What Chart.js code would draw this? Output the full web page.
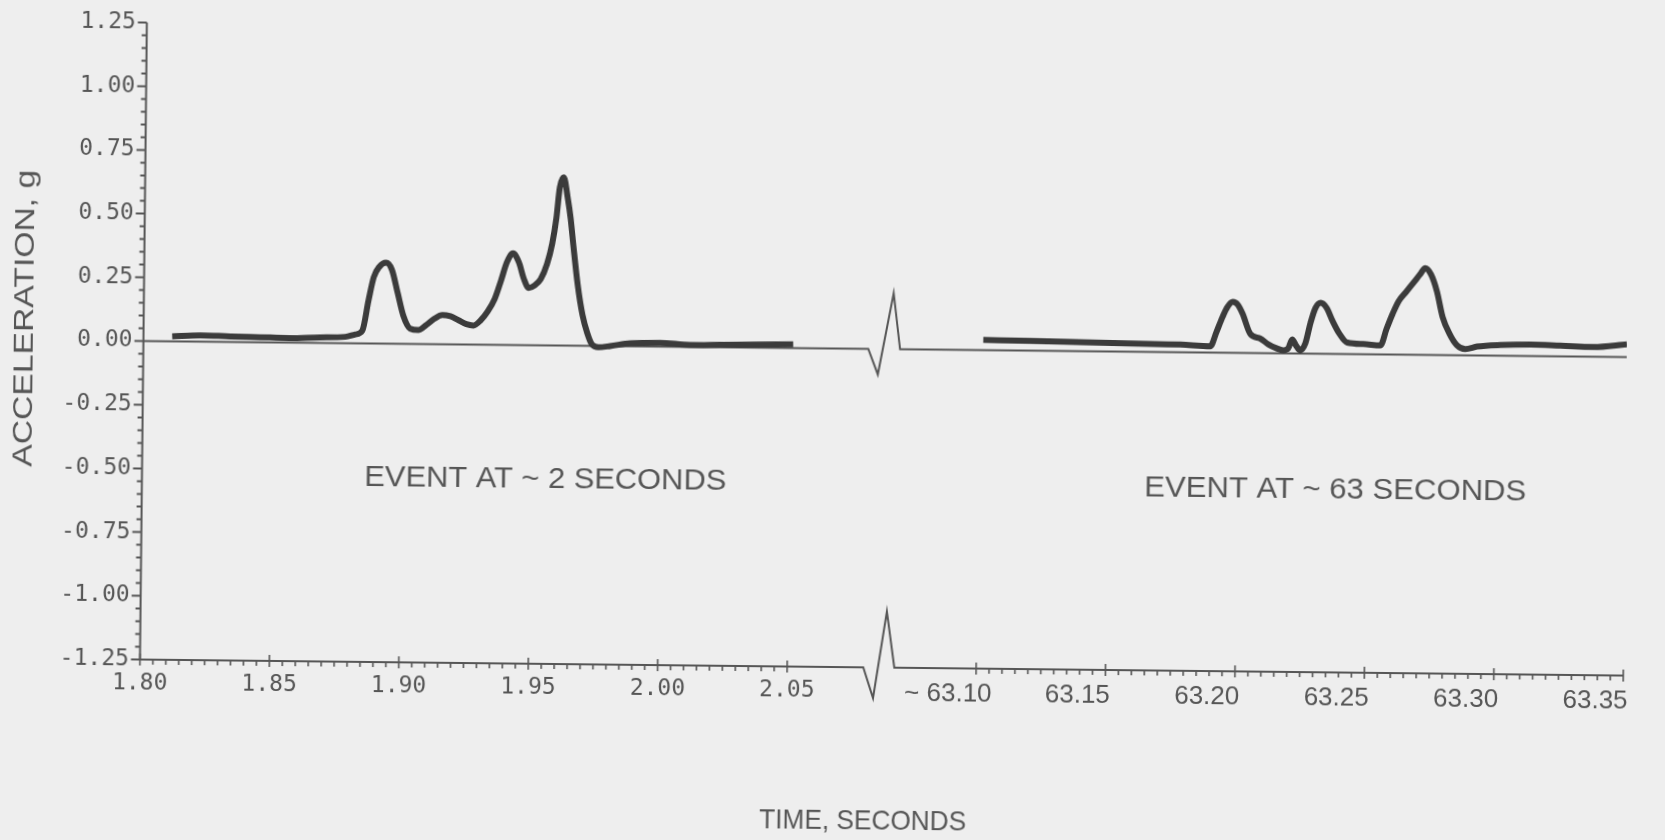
<!DOCTYPE html>
<html>
<head>
<meta charset="utf-8">
<script src="https://cdn.jsdelivr.net/npm/chart.js@4.4.0/dist/chart.umd.min.js"></script>
<style>
  html, body { margin: 0; padding: 0; background: #eeeeee; overflow: hidden; }
  /* the scanned original sits slightly crooked on the page */
  #wrap { width: 1665px; height: 840px; transform: rotate(0.62deg); transform-origin: 50% 50%; }
</style>
</head>
<body>
<div id="wrap"><canvas id="chart"></canvas></div>
<script>
// event at ~2 s : time (s) / acceleration (g)
const leftTime = [1.8111, 1.8219, 1.8335, 1.8451, 1.8566, 1.8682, 1.8779, 1.8818, 1.8845, 1.8868,
  1.8887, 1.8907, 1.8934, 1.8957, 1.8980, 1.9003, 1.9030, 1.9061, 1.9092, 1.9123,
  1.9154, 1.9185, 1.9216, 1.9247, 1.9274, 1.9301, 1.9328, 1.9355, 1.9378, 1.9401,
  1.9424, 1.9447, 1.9467, 1.9486, 1.9509, 1.9532, 1.9556, 1.9575, 1.9590, 1.9602,
  1.9617, 1.9633, 1.9645, 1.9656, 1.9675, 1.9695, 1.9714, 1.9733, 1.9757, 1.9803,
  1.9880, 1.9996, 2.0112, 2.0228, 2.0344, 2.0510];
const leftAccel = [0.020, 0.025, 0.022, 0.020, 0.018, 0.022, 0.025, 0.035, 0.050, 0.170,
  0.260, 0.300, 0.318, 0.290, 0.200, 0.110, 0.060, 0.055, 0.075, 0.100,
  0.115, 0.110, 0.095, 0.080, 0.075, 0.095, 0.130, 0.180, 0.250, 0.325,
  0.360, 0.325, 0.260, 0.225, 0.235, 0.260, 0.320, 0.400, 0.500, 0.620,
  0.660, 0.580, 0.500, 0.400, 0.240, 0.120, 0.050, 0.005, -0.005, 0.000,
  0.012, 0.015, 0.008, 0.010, 0.012, 0.015];

// event at ~63 s
const rightTime = [63.1014, 63.1195, 63.1388, 63.1582, 63.1775, 63.1891, 63.1914, 63.1937, 63.1956, 63.1976,
  63.1995, 63.2014, 63.2045, 63.2084, 63.2115, 63.2146, 63.2173, 63.2192, 63.2207, 63.2223,
  63.2238, 63.2258, 63.2277, 63.2296, 63.2316, 63.2339, 63.2362, 63.2389, 63.2420, 63.2482,
  63.2548, 63.2571, 63.2594, 63.2617, 63.2644, 63.2675, 63.2698, 63.2718, 63.2741, 63.2764,
  63.2787, 63.2814, 63.2843, 63.2876, 63.2922, 63.3011, 63.3127, 63.3243, 63.3371, 63.3500];
const rightAccel = [0.040, 0.038, 0.035, 0.032, 0.030, 0.025, 0.080, 0.140, 0.180, 0.200,
  0.190, 0.155, 0.075, 0.057, 0.035, 0.020, 0.012, 0.020, 0.055, 0.030,
  0.012, 0.040, 0.120, 0.180, 0.200, 0.180, 0.130, 0.080, 0.045, 0.040,
  0.035, 0.100, 0.160, 0.210, 0.245, 0.285, 0.315, 0.340, 0.315, 0.250,
  0.150, 0.085, 0.040, 0.025, 0.035, 0.042, 0.045, 0.042, 0.038, 0.050];

// broken time axis: 63.10 s is drawn right after 2.05 s
const timeShift = 60.977;

// zero reference line and bottom axis line, both with the break mark (axis units)
const zeroLineX = [1.80, 2.0800, 2.0838, 2.0896, 2.0923, 2.3730];
const zeroLineY = [0, 0, -0.10, 0.22, 0, 0];
const axisLineX = [1.80, 2.0794, 2.0833, 2.0883, 2.0914, 2.3730];
const axisLineY = [-1.25, -1.25, -1.37, -1.03, -1.25, -1.25];

const yTicks = [-1.25, -1.00, -0.75, -0.50, -0.25, 0.00, 0.25, 0.50, 0.75, 1.00, 1.25];
const xTicksLeft = [1.80, 1.85, 1.90, 1.95, 2.00, 2.05];
const xTicksRight = [63.10, 63.15, 63.20, 63.25, 63.30, 63.35];
const xLabelsRight = ['~ 63.10', '63.15', '63.20', '63.25', '63.30', '63.35'];
const xLabels = xTicksLeft.map(v => v.toFixed(2)).concat(xLabelsRight);

const ink = '#565656';
const plotFont = 'DejaVu Sans Mono';
const narrowFont = '"Liberation Sans Narrow", "Liberation Sans", sans-serif';
const rightLabelNudge = 0.0108; // right-hand labels sit a little left of their ticks

const notes = [
  { text: 'EVENT AT ~ 2 SECONDS', x: 546, y: 483, size: 29, width: 362 },
  { text: 'EVENT AT ~ 63 SECONDS', x: 1336, y: 485, size: 29, width: 382 },
  { text: 'TIME, SECONDS', x: 867, y: 821, size: 28, width: 207 },
  { text: 'ACCELERATION, g', x: 25, y: 327, size: 27, width: 297, vertical: true }
];

const axisMarks = {
  id: 'axisMarks',
  beforeDatasetsDraw(chart) {
    const { ctx, chartArea: area, scales: { x, y } } = chart;
    ctx.save();
    ctx.strokeStyle = ink;
    ctx.lineWidth = 2;
    ctx.beginPath();
    ctx.moveTo(area.left, y.getPixelForValue(1.25));
    ctx.lineTo(area.left, y.getPixelForValue(-1.25));
    for (let i = -25; i <= 25; i++) {
      const py = y.getPixelForValue(i * 0.05);
      const len = i % 5 === 0 ? 9 : 5;
      ctx.moveTo(area.left - len, py);
      ctx.lineTo(area.left, py);
    }
    ctx.stroke();
    ctx.lineWidth = 1.6;
    ctx.beginPath();
    const base = y.getPixelForValue(-1.25);
    [[xTicksLeft[0], 0], [xTicksRight[0], timeShift]].forEach(([start, shift]) => {
      for (let i = 0; i <= 50; i++) {
        const px = x.getPixelForValue(start + i * 0.005 - shift);
        if (i % 10 === 0) { ctx.moveTo(px, base - 6); ctx.lineTo(px, base + 6); }
        else { ctx.moveTo(px, base); ctx.lineTo(px, base + 5); }
      }
    });
    ctx.stroke();
    ctx.restore();
  }
};

const notesPlugin = {
  id: 'notes',
  afterDraw(chart) {
    const ctx = chart.ctx;
    notes.forEach(n => {
      ctx.save();
      ctx.translate(n.x, n.y);
      if (n.vertical) ctx.rotate(-Math.PI / 2);
      ctx.font = n.size + 'px ' + narrowFont;
      const w = ctx.measureText(n.text).width;
      ctx.scale(n.width / w, 1);
      ctx.fillStyle = ink;
      ctx.textAlign = 'center';
      ctx.textBaseline = 'middle';
      ctx.fillText(n.text, 0, 0);
      ctx.restore();
    });
  }
};

const toPoints = (xs, ys, shift = 0) => xs.map((v, i) => ({ x: v - shift, y: ys[i] }));

new Chart(document.getElementById('chart'), {
  type: 'scatter',
  data: {
    datasets: [
      { label: 'event 2 s', data: toPoints(leftTime, leftAccel), showLine: true,
        borderColor: '#3b3b3b', borderWidth: 6, pointRadius: 0, cubicInterpolationMode: 'monotone' },
      { label: 'event 63 s', data: toPoints(rightTime, rightAccel, timeShift), showLine: true,
        borderColor: '#3b3b3b', borderWidth: 6, pointRadius: 0, cubicInterpolationMode: 'monotone' },
      { label: 'zero', data: toPoints(zeroLineX, zeroLineY), showLine: true,
        borderColor: ink, borderWidth: 2, pointRadius: 0, tension: 0, clip: false },
      { label: 'axis', data: toPoints(axisLineX, axisLineY), showLine: true,
        borderColor: ink, borderWidth: 2, pointRadius: 0, tension: 0, clip: false }
    ]
  },
  options: {
    responsive: true,
    maintainAspectRatio: false,
    animation: false,
    events: [],
    layout: { padding: { top: 30, right: 39, left: 0, bottom: 0 } },
    plugins: { legend: { display: false }, tooltip: { enabled: false } },
    scales: {
      x: {
        type: 'linear',
        min: 1.80,
        max: 2.3730,
        grid: { display: false, drawTicks: false },
        border: { display: false },
        afterBuildTicks: scale => {
          scale.ticks = xTicksLeft.map(v => ({ value: v }))
            .concat(xTicksRight.map(v => ({ value: v - timeShift - rightLabelNudge })));
        },
        afterFit: scale => { scale.height = 173; },
        ticks: {
          autoSkip: false, maxRotation: 0, minRotation: 0, padding: 10, color: ink,
          font: ctx => ctx.index < xTicksLeft.length
            ? { family: plotFont, size: 23 }
            : { family: narrowFont, size: 26 },
          callback: (value, index) => xLabels[index]
        }
      },
      y: {
        min: -1.25,
        max: 1.25,
        grid: { display: false, drawTicks: false },
        border: { display: false },
        afterBuildTicks: scale => { scale.ticks = yTicks.map(v => ({ value: v })); },
        afterFit: scale => { scale.width = 142.6; },
        ticks: {
          autoSkip: false, padding: 11, color: ink,
          font: { family: plotFont, size: 23 },
          callback: value => value.toFixed(2)
        }
      }
    }
  },
  plugins: [axisMarks, notesPlugin]
});
</script>
</body>
</html>
